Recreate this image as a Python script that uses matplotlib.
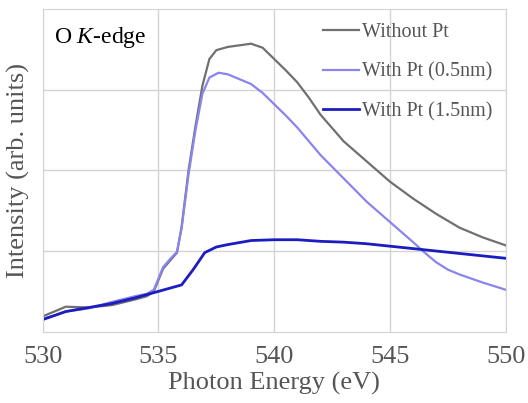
import matplotlib.pyplot as plt
import numpy as np

plt.rcParams['font.family'] = ['Liberation Serif', 'DejaVu Serif']
plt.rcParams['mathtext.fontset'] = 'custom'
plt.rcParams['mathtext.rm'] = 'Liberation Serif'
plt.rcParams['mathtext.it'] = 'Liberation Serif:italic'

# Without Pt
E_a = [530, 530.5, 531, 532, 533, 534, 534.5, 534.8, 535.2, 535.5, 535.8, 536.0, 536.3,
       536.6, 536.9, 537.2, 537.5, 538, 538.5, 539, 539.5, 540, 540.5, 541, 541.5, 542,
       543, 544, 545, 546, 547, 548, 549, 550]
I_a = [0.19, 0.25, 0.31, 0.30, 0.33, 0.40, 0.44, 0.50, 0.78, 0.88, 0.98, 1.30, 2.00,
       2.55, 3.05, 3.38, 3.49, 3.53, 3.55, 3.57, 3.52, 3.38, 3.24, 3.09, 2.90, 2.69,
       2.36, 2.11, 1.86, 1.65, 1.46, 1.29, 1.17, 1.07]

# With Pt (0.5nm)
E_b = [530, 530.5, 531, 532, 533, 534, 534.5, 534.8, 535.2, 535.5, 535.8, 536.0, 536.3,
       536.6, 536.9, 537.2, 537.6, 538, 538.5, 539, 539.5, 540, 540.5, 541, 541.5, 542,
       543, 544, 545, 546, 546.5, 547, 547.5, 548, 549, 550]
I_b = [0.16, 0.20, 0.25, 0.29, 0.37, 0.44, 0.47, 0.52, 0.80, 0.90, 0.99, 1.28, 1.95,
       2.50, 2.95, 3.15, 3.21, 3.19, 3.13, 3.07, 2.96, 2.82, 2.68, 2.53, 2.36, 2.19,
       1.90, 1.61, 1.36, 1.11, 0.98, 0.86, 0.77, 0.71, 0.61, 0.52]

# With Pt (1.5nm)
E_c = [530, 531, 532, 533, 534, 535, 535.5, 536, 536.5, 537, 537.5, 538, 539, 540,
       541, 542, 543, 544, 545, 546, 547, 548, 549, 550]
I_c = [0.15, 0.25, 0.30, 0.35, 0.42, 0.50, 0.54, 0.58, 0.77, 0.98, 1.05, 1.08, 1.13, 1.14,
       1.14, 1.12, 1.11, 1.09, 1.06, 1.03, 1.00, 0.97, 0.94, 0.91]

labels = ['Without Pt', 'With Pt (0.5nm)', 'With Pt (1.5nm)']
colors = ['#707070', '#8a84ee', '#1c1cc0']

fig = plt.figure(figsize=(5.28, 4.03), dpi=100)
ax = fig.add_axes([42.7 / 528, 1 - 331.7 / 403, 463 / 528, 322.7 / 403])

ax.plot(E_a, I_a, color=colors[0], lw=1.6, label=labels[0])
ax.plot(E_b, I_b, color=colors[1], lw=1.6, label=labels[1])
ax.plot(E_c, I_c, color=colors[2], lw=2.0, label=labels[2])

ax.set_xlim(530, 550)
ax.set_ylim(0, 4)
ax.set_xticks([530, 535, 540, 545, 550])
ax.set_yticks([1, 2, 3])
ax.set_yticklabels([])
ax.grid(True, color='#d4d4d4', lw=1.0)
ax.tick_params(length=0, labelsize=19, labelcolor='#555555', pad=10)
for s in ax.spines.values():
    s.set_color('#d4d4d4')

ax.set_xlabel('Photon Energy (eV)', fontsize=19, color='#555555')
ax.set_ylabel('Intensity (arb. units)', fontsize=19, color='#555555')
ax.xaxis.set_label_coords(0.5, -0.125)
ax.yaxis.set_label_coords(-0.028, 0.5)

ax.text(0.024, 0.913, 'O $K$-edge', transform=ax.transAxes, fontsize=17,
        va='center', ha='left')

leg = ax.legend(loc='upper right', bbox_to_anchor=(1.01, 1.012), frameon=False,
                fontsize=14.5, handlelength=1.8, handletextpad=0.15, labelspacing=1.0)
for t in leg.get_texts():
    t.set_color('#555555')

fig.savefig('out.png', dpi=100)
